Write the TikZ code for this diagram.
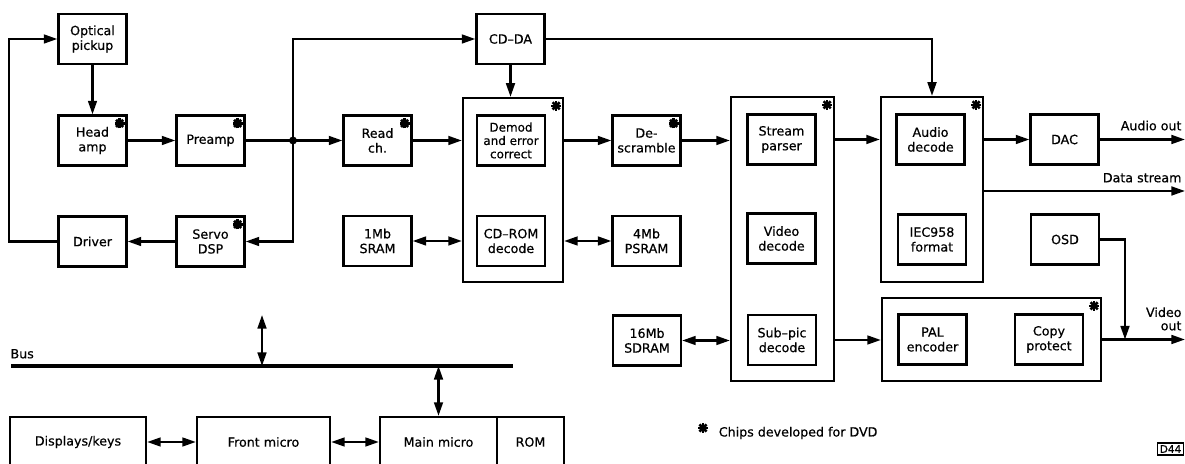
\documentclass[tikz,border=0pt]{standalone}
\usepackage{fontspec}
\setmainfont{DejaVu Sans}[FakeBold=0.5]
\usetikzlibrary{arrows.meta}

\begin{document}
\begin{tikzpicture}[x=0.025cm, y=-0.025cm, line width=1.6pt,
  font=\fontsize{9}{10.5}\selectfont,
  blk/.style={draw, line width=1.6pt, minimum width=1.7cm, minimum height=1.25cm, align=center, inner sep=1pt},
  grp/.style={draw, line width=1.6pt, inner sep=0pt},
  arr/.style={-{Triangle[length=3.4mm,width=2.2mm]}},
  darr/.style={{Triangle[length=3.4mm,width=2.2mm]}-{Triangle[length=3.4mm,width=2.2mm]}},
  chip/.pic={\foreach \a in {0,45,90,135} \draw[line width=1.8pt] (\a:5) -- (\a+180:5);}]
  \clip (0,0) rectangle (1185,464);

  % pickup, amplifiers and servo loop
  \node[blk] (oppick) at (92.5,39) {Optical\\pickup};
  \node[blk] (headamp) at (92.5,140.5) {Head\\amp};
  \node[blk] (preamp) at (210.5,140.5) {Preamp};
  \node[blk] (driver) at (92.5,241.5) {Driver};
  \node[blk] (servo) at (210.5,241.5) {Servo\\DSP};
  \node[blk] (readch) at (377.5,140.5) {Read\\ch.};
  \node[blk] (sram) at (377.5,241) {1Mb\\SRAM};

  % demodulator chip
  \node[grp, minimum width=2.5cm, minimum height=4.6cm] (demodbox) at (513,190) {};
  \node[blk] (cdda) at (510.5,39) {CD--DA};
  \node[blk, font=\fontsize{8.5}{9.5}\selectfont] (demod) at (511,140.5) {Demod\\and error\\correct};
  \node[blk] (cdrom) at (511,241) {CD--ROM\\decode};
  \node[blk] (descr) at (646.5,140.5) {De-\\scramble};
  \node[blk] (psram) at (646.5,241) {4Mb\\PSRAM};
  \node[blk] (sdram) at (647,340.5) {16Mb\\SDRAM};

  % stream decoder chip
  \node[grp, minimum width=2.575cm, minimum height=7.1cm] (streambox) at (782.5,239) {};
  \node[blk] (parser) at (781.5,139.5) {Stream\\parser};
  \node[blk] (video) at (781.5,238.5) {Video\\decode};
  \node[blk] (subpic) at (782,340) {Sub--pic\\decode};

  % audio chip and video encoder
  \node[grp, minimum width=2.55cm, minimum height=4.625cm] (audiobox) at (932,189.5) {};
  \node[blk] (audio) at (930.5,139.5) {Audio\\decode};
  \node[blk] (iec) at (932,239.5) {IEC958\\format};
  \node[blk] (dac) at (1064.5,139.5) {DAC};
  \node[blk] (osd) at (1065,239.5) {OSD};
  \node[grp, minimum width=5.475cm, minimum height=2.075cm] (palbox) at (991.5,339.5) {};
  \node[blk] (pal) at (932.5,339.5) {PAL\\encoder};
  \node[blk] (copy) at (1049,339.5) {Copy\\protect};

  % control side
  \node[blk, minimum width=3.4cm] (disp) at (78,442) {Displays/keys};
  \node[blk, minimum width=3.325cm] (front) at (263.5,442) {Front micro};
  \node[blk, minimum width=2.925cm] (main) at (438.5,442) {Main micro};
  \node[blk, minimum width=1.675cm] (rom) at (530.5,442) {ROM};

  % chips developed for DVD
  \foreach \n in {headamp,preamp,readch,servo,descr,demodbox,streambox,audiobox,palbox}
    \pic at ([shift={(-8,9)}]\n.north east) {chip};

  % front end
  \coordinate (jn) at (293,140.5);
  \coordinate (lloop) at (9,0);
  \draw[arr] (oppick) -- (headamp);
  \draw[arr] (headamp) -- (preamp);
  \draw[arr] (preamp) -- (readch);
  \fill (jn) circle (2.8pt);
  \draw[arr] (jn) |- (cdda.west);
  \draw[arr] (jn) |- (servo.east);
  \draw[arr] (servo) -- (driver);
  \draw[arr] (driver.west) -- (driver.west -| lloop) |- (oppick.west);

  % decoding chain
  \draw[arr] (cdda.south) -- (cdda.south |- demodbox.north);
  \draw[arr] (cdda.east) -| (audiobox.north);
  \draw[arr] (readch.east) -- (readch.east -| demodbox.west);
  \draw[darr] (sram.east) -- (sram.east -| demodbox.west);
  \draw[arr] (descr.west -| demodbox.east) -- (descr.west);
  \draw[darr] (psram.west -| demodbox.east) -- (psram.west);
  \draw[arr] (descr.east) -- (descr.east -| streambox.west);
  \draw[darr] (sdram.east) -- (sdram.east -| streambox.west);
  \draw[arr] (parser.east -| streambox.east) -- (parser.east -| audiobox.west);
  \draw[arr] (subpic.east -| streambox.east) -- (subpic.east -| palbox.west);
  \draw[arr] (audio.east -| audiobox.east) -- (dac.west);

  % outputs
  \coordinate (aout) at (1185,139.5);
  \coordinate (dout) at (1185,191);
  \coordinate (vout) at (1185,339.5);
  \coordinate (vjoin) at (1125,339.5);
  \draw[arr] (dac.east) -- (aout);
  \draw[arr] (dout -| audiobox.east) -- (dout);
  \draw[arr] (palbox.east) -- (vout);
  \draw[arr] (osd.east) -| (vjoin);
  \node[anchor=south east, inner sep=1pt] (aoutl) at (1184,133) {Audio out};
  \node[anchor=south east, inner sep=1pt] (doutl) at (1184,185) {Data stream};
  \node[anchor=south east, align=right, inner sep=1pt, font=\fontsize{9}{9.5}\selectfont] (voutl) at (1184,333) {Video\\out};

  % bus
  \coordinate (busl) at (11,366);
  \coordinate (busr) at (513,366);
  \coordinate (busup) at (262,315);
  \draw[line width=3.4pt] (busl) -- (busr);
  \node[anchor=south west, inner sep=1pt] (buslbl) at (8,361) {Bus};
  \draw[darr] (busup) -- (busup |- busl);
  \draw[darr] (main.north) -- (main.north |- busl);
  \draw[darr] (disp) -- (front);
  \draw[darr] (front) -- (main);

  % note and figure tag
  \pic at (703,428) {chip};
  \node[anchor=west] (note) at (713,433) {Chips developed for DVD};
  \node[draw, line width=1pt, anchor=west, inner sep=1.5pt, font=\fontsize{7.5}{8}\selectfont] (tag) at (1157,449) {D44};
\end{tikzpicture}
\end{document}
